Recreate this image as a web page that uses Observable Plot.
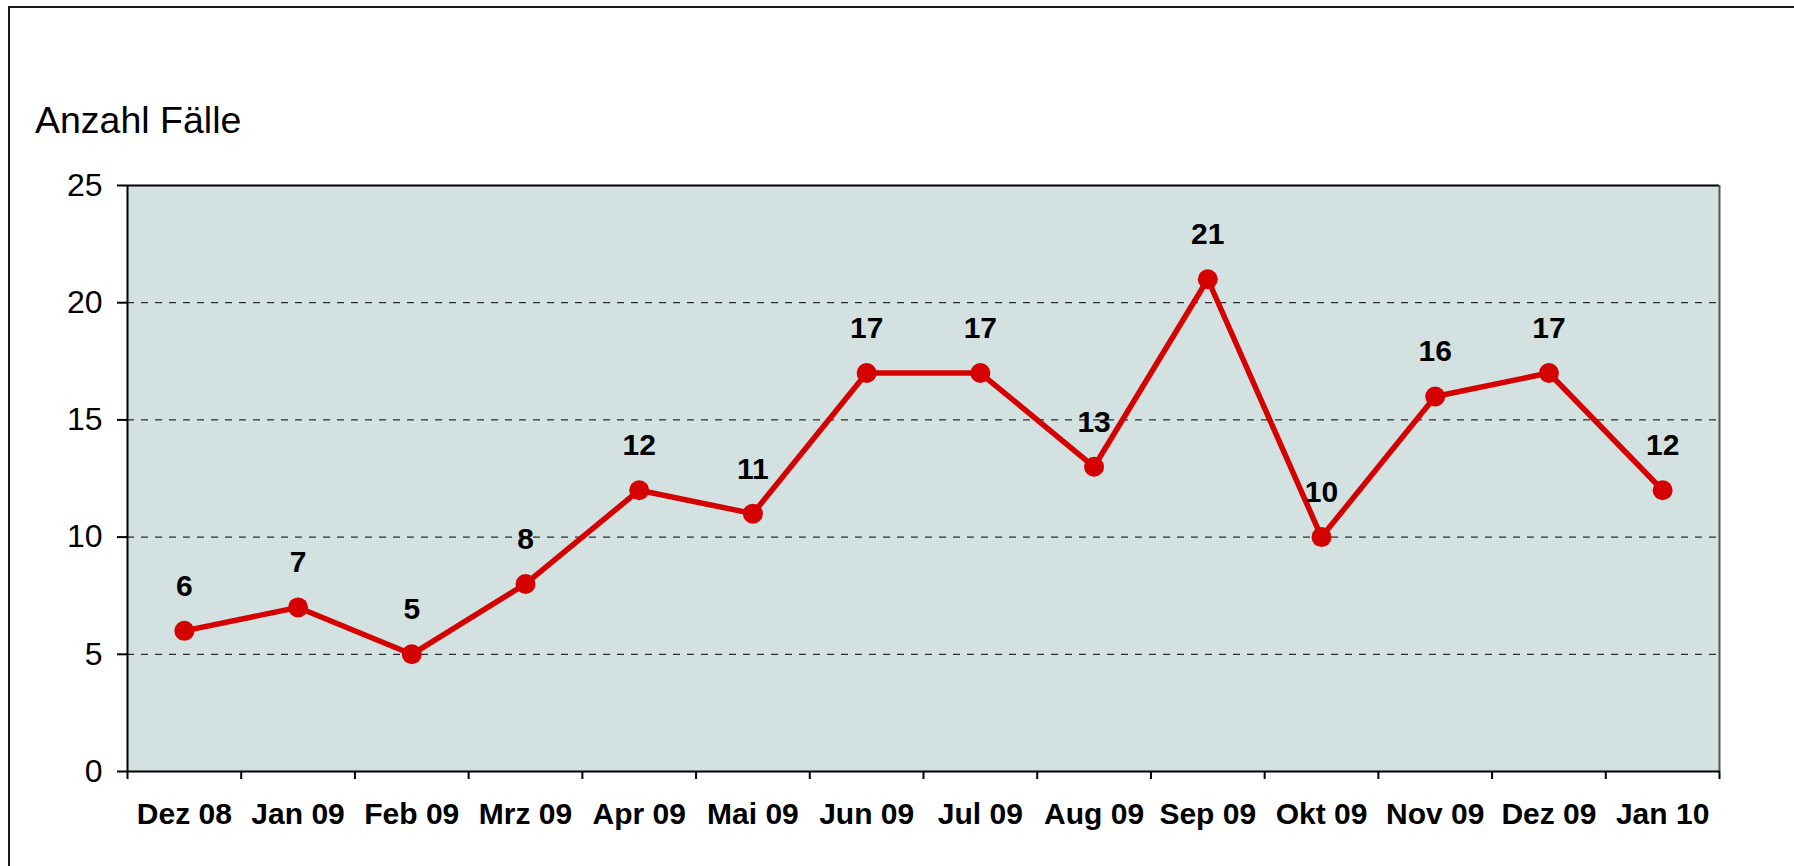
<!DOCTYPE html>
<html>
<head>
<meta charset="utf-8">
<script src="https://cdn.jsdelivr.net/npm/d3@7"></script>
<script src="https://cdn.jsdelivr.net/npm/@observablehq/plot@0.6"></script>
<style>
  html, body { margin: 0; padding: 0; background: #fff; overflow: hidden; width: 1794px; height: 866px; }
  #wrap { position: relative; width: 1794px; height: 866px; font-family: "Liberation Sans", Arial, sans-serif; }
  #border { position: absolute; left: 8px; top: 6px; width: 2000px; height: 2000px; border: 2px solid #1a1a1a; box-sizing: border-box; }
  #title { position: absolute; left: 35px; top: 102px; font-size: 37.5px; line-height: 37.5px; color: #000; white-space: nowrap; }
  #chart { position: absolute; left: 0; top: 0; }
</style>
</head>
<body>
<div id="wrap">
  <div id="border"></div>
  <div id="title">Anzahl Fälle</div>
  <div id="chart"></div>
</div>
<script>
const months = ["Dez 08", "Jan 09", "Feb 09", "Mrz 09", "Apr 09", "Mai 09", "Jun 09", "Jul 09", "Aug 09", "Sep 09", "Okt 09", "Nov 09", "Dez 09", "Jan 10"];
const cases = [6, 7, 5, 8, 12, 11, 17, 17, 13, 21, 10, 16, 17, 12];
const yTicks = [0, 5, 10, 15, 20, 25];

const red = "#d50000";
const data = months.map((m, i) => ({month: m, pos: i + 0.5, value: cases[i]}));
const n = months.length;

const chart = Plot.plot({
  width: 1794,
  height: 866,
  marginLeft: 127,
  marginRight: 75,
  marginTop: 185,
  marginBottom: 95,
  style: {fontFamily: "'Liberation Sans', Arial, sans-serif", fontSize: "32px", color: "#000", background: "transparent", overflow: "visible"},
  x: {type: "linear", domain: [0, n]},
  y: {domain: [0, 25]},
  marks: [
    Plot.frame({fill: "#d4e1e1", stroke: null}),
    Plot.gridY(yTicks.filter(v => v > 0 && v < 25), {stroke: "#000", strokeOpacity: 1, strokeWidth: 1, strokeDasharray: "7,7"}),
    Plot.ruleY([25], {stroke: "#000", strokeWidth: 2}),
    Plot.ruleX([n], {stroke: "#555", strokeWidth: 2}),
    Plot.axisY(yTicks, {tickSize: 10, tickPadding: 15, fontSize: 32, label: null, strokeWidth: 2}),
    Plot.ruleX([0], {stroke: "#000", strokeWidth: 2}),
    Plot.axisX(d3.range(0, n + 1), {tickSize: 8, tickFormat: () => "", label: null, strokeWidth: 2}),
    Plot.axisX(data.map(d => d.pos), {tickSize: 0, tickPadding: 31, tickFormat: v => months[Math.floor(v)], fontSize: 30, fontWeight: "bold", label: null}),
    Plot.ruleY([0], {stroke: "#000", strokeWidth: 2}),
    Plot.line(data, {x: "pos", y: "value", stroke: red, strokeWidth: 5.5}),
    Plot.dot(data, {x: "pos", y: "value", r: 10, fill: red, stroke: null}),
    Plot.text(data, {x: "pos", y: "value", text: d => String(d.value), dy: -35, lineAnchor: "bottom", fontSize: 30, fontWeight: "bold", fill: "#000"})
  ]
});
document.getElementById("chart").appendChild(chart);
</script>
</body>
</html>
